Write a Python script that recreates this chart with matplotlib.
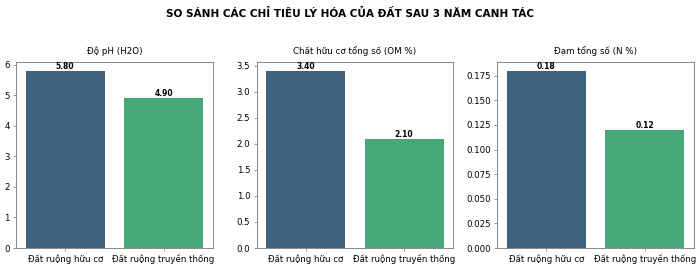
import matplotlib

matplotlib.use("Agg")
import matplotlib.pyplot as plt

categories = ["Đất ruộng hữu cơ", "Đất ruộng truyền thống"]
panel_titles = ["Độ pH (H2O)", "Chất hữu cơ tổng số (OM %)", "Đạm tổng số (N %)"]
ph_values = [5.80, 4.90]
om_values = [3.40, 2.10]
n_values = [0.18, 0.12]

BAR_COLORS = ["#3d6381", "#46a877"]
SPINE_COLOR = "#888888"

plt.rcParams["font.family"] = ["DejaVu Sans"]

fig, axes = plt.subplots(1, 3, figsize=(7, 2.67), dpi=100)
fig.subplots_adjust(left=16 / 700, right=694 / 700, top=1 - 62 / 267,
                    bottom=1 - 248 / 267, wspace=44 / 197)
fig.suptitle("SO SÁNH CÁC CHỈ TIÊU LÝ HÓA CỦA ĐẤT SAU 3 NĂM CANH TÁC",
             fontsize=7.6, fontweight="bold", y=0.97)

for ax, title, values in zip(axes, panel_titles, [ph_values, om_values, n_values]):
    bars = ax.bar(categories, values, color=BAR_COLORS, width=0.8)
    ax.set_xlim(-0.5, 1.5)
    for bar, v in zip(bars, values):
        ax.text(bar.get_x() + bar.get_width() / 2, v, f"{v:.2f}",
                ha="center", va="bottom", fontsize=5.5, fontweight="bold")
    ax.set_title(title, fontsize=6.3, pad=6)
    ax.tick_params(labelsize=6.2, length=2.5, width=0.6, color=SPINE_COLOR, pad=2)
    for s in ax.spines.values():
        s.set_color(SPINE_COLOR)
        s.set_linewidth(0.7)

fig.savefig("out.png", dpi=100)
